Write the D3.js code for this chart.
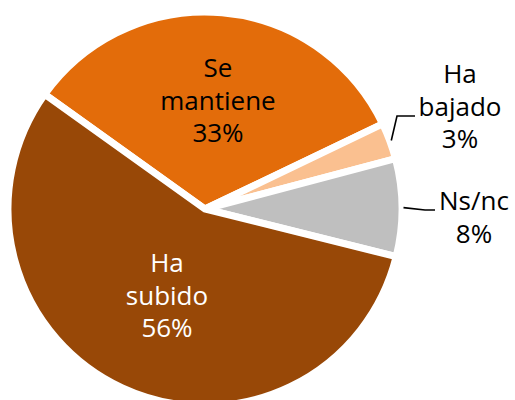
<!DOCTYPE html>
<html>
<head>
<meta charset="utf-8">
<script src="https://cdn.jsdelivr.net/npm/d3@7/dist/d3.min.js"></script>
<style>
  html, body { margin: 0; padding: 0; background: #ffffff; }
  svg { display: block; }
  text { font-family: "Open Sans", "DejaVu Sans", sans-serif; font-size: 26px; }
</style>
</head>
<body>
<svg id="chart" width="515" height="400"></svg>
<script>
// Survey answers, in drawing order (clockwise)
const categories = ["Se mantiene", "Ha bajado", "Ns/nc", "Ha subido"];
const values = [33, 3, 8, 56];
const labelWords = [["Se", "mantiene"], ["Ha", "bajado"], ["Ns/nc"], ["Ha", "subido"]];

// Styling
const sliceColors = ["#E36C0A", "#FAC090", "#BFBFBF", "#984807"];
const textColors = ["#000000", "#000000", "#000000", "#ffffff"];

// Layout
const width = 515, height = 400;
const cx = 205, cy = 209, radius = 197;
const startDeg = -54.4;
const lineHeight = 32.5;

// Label block centres; outside labels also carry a leader elbow and end
const labelLayout = {
  "Se mantiene": { x: 218, y: 100.5 },
  "Ha bajado":   { x: 460, y: 106.5, elbow: [397, 116], end: [415, 116] },
  "Ns/nc":       { x: 474, y: 217.25, elbow: [425, 210], end: [435, 210] },
  "Ha subido":   { x: 167, y: 295.5 }
};

const data = categories.map((c, i) => ({
  category: c, value: values[i], words: labelWords[i],
  color: sliceColors[i], textColor: textColors[i]
}));

const svg = d3.select("#chart");
const g = svg.append("g").attr("transform", `translate(${cx},${cy})`);

const start = startDeg * Math.PI / 180;
const pie = d3.pie().sort(null).value(d => d.value)
  .startAngle(start).endAngle(start + 2 * Math.PI);
const arcs = pie(data);

const arc = d3.arc().innerRadius(0).outerRadius(radius);

g.selectAll("path.slice")
  .data(arcs)
  .join("path")
  .attr("class", "slice")
  .attr("d", arc)
  .attr("fill", d => d.data.color)
  .attr("stroke", "#ffffff")
  .attr("stroke-width", 7)
  .attr("stroke-linejoin", "miter");

// Leader lines for labels placed outside the pie
const edgeArc = d3.arc().innerRadius(radius + 1.5).outerRadius(radius + 1.5);
arcs.forEach(d => {
  const lay = labelLayout[d.data.category];
  if (!lay.elbow) return;
  const [sx, sy] = edgeArc.centroid(d);
  svg.append("polyline")
    .attr("points", [[sx + cx, sy + cy], lay.elbow, lay.end].map(p => p.join(",")).join(" "))
    .attr("fill", "none")
    .attr("stroke", "#000000")
    .attr("stroke-width", 1.6);
});

// Category labels with percentage
arcs.forEach(d => {
  const lay = labelLayout[d.data.category];
  const lines = d.data.words.concat([d.data.value + "%"]);
  const n = lines.length;
  const t = svg.append("text")
    .attr("text-anchor", "middle")
    .attr("fill", d.data.textColor);
  lines.forEach((ln, i) => {
    t.append("tspan")
      .attr("x", lay.x)
      .attr("y", lay.y + (i - (n - 1) / 2) * lineHeight + 9)
      .text(ln);
  });
});
</script>
</body>
</html>
